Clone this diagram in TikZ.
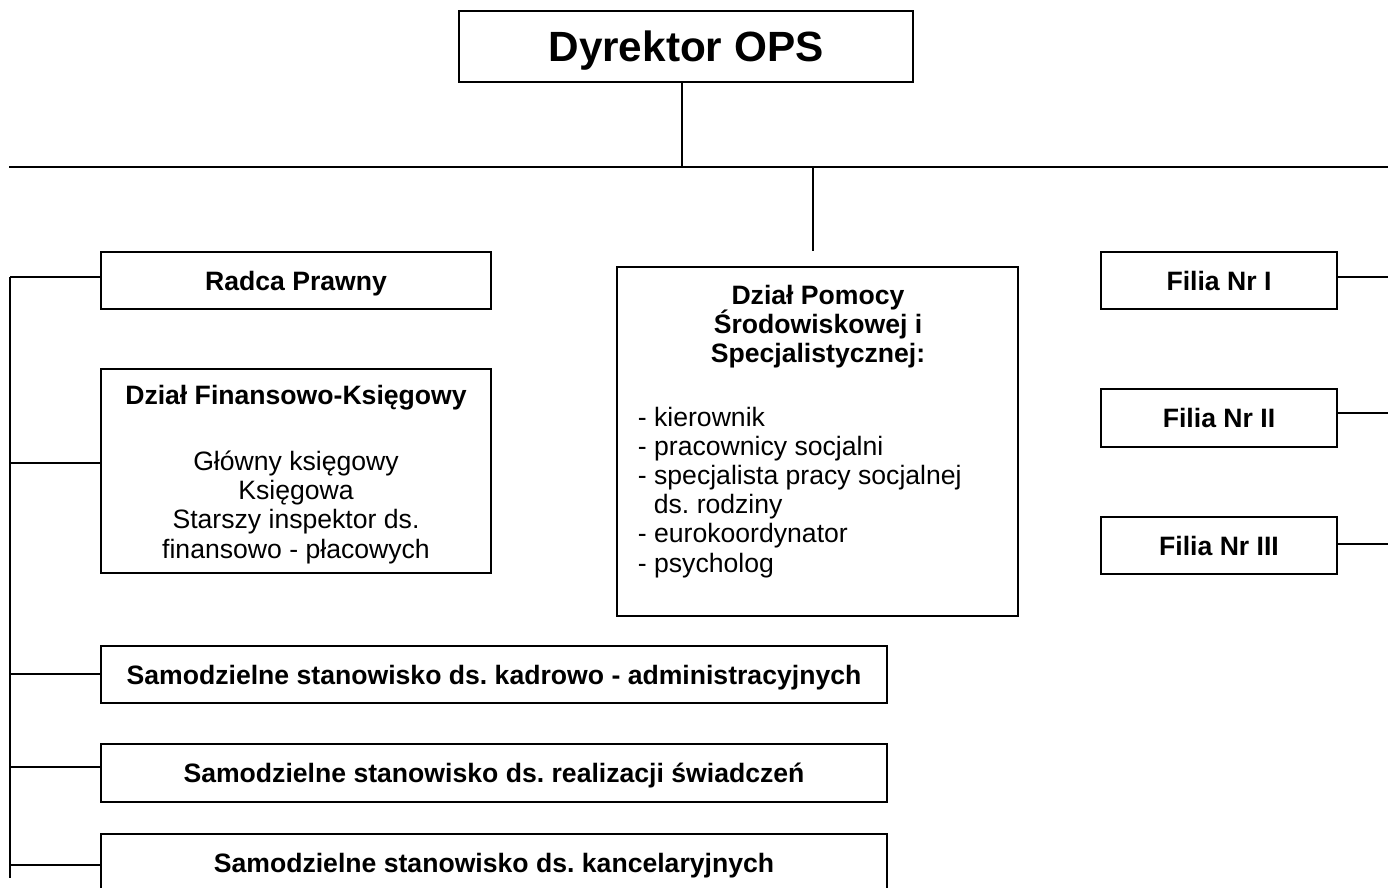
\documentclass[tikz,border=0pt]{standalone}
\usepackage{fontspec}
\setmainfont{Liberation Sans}
\frenchspacing
\newcommand\bodyfont{\fontsize{26.6}{29.2}\selectfont}
\begin{document}
\frenchspacing
\begin{tikzpicture}[x=1pt,y=-1pt,
  line width=1.8pt,
  box/.style={draw, line width=1.8pt, inner sep=0pt, font=\bodyfont\bfseries, text height=19pt, text depth=0pt, align=center},
  txt/.style={inner sep=0pt, font=\bodyfont},
  conn/.style={line width=1.8pt}]
\useasboundingbox (0,0) rectangle (1388,887);
\clip (0,0) rectangle (1388,887);

% boxes
\node[box, minimum width=454pt, minimum height=71pt, font=\fontsize{42.3}{48}\selectfont\bfseries, text height=30pt] (dyr) at (686,46.5) {Dyrektor OPS};
\node[box, minimum width=390pt, minimum height=57pt] (radca) at (296,280.5) {Radca Prawny};
\node[box, minimum width=390pt, minimum height=204pt] (fin) at (296,471) {};
\node[txt, anchor=north, align=center, font=\bodyfont\bfseries] (finT) at (296,384) {Dział Finansowo-Księgowy};
\node[txt, anchor=north, align=center] (finL) at (296,450) {Główny księgowy\\Księgowa\\Starszy inspektor ds.\\finansowo - płacowych};
\node[box, minimum width=401pt, minimum height=349pt] (pom) at (817.5,441.5) {};
\node[txt, anchor=north, align=center, font=\bodyfont\bfseries] (pomT) at (818,284) {Dział Pomocy\\Środowiskowej i\\Specjalistycznej:};
\node[txt, anchor=north west, align=left] (pomL) at (637,406) {- kierownik\\- pracownicy socjalni\\- specjalista pracy socjalnej\\\hspace*{16pt}ds. rodziny\\- eurokoordynator\\- psycholog};
\node[box, minimum width=786pt, minimum height=57pt] (kadr) at (494,674.5) {Samodzielne stanowisko ds. kadrowo - administracyjnych};
\node[box, minimum width=786pt, minimum height=58pt] (real) at (494,773) {Samodzielne stanowisko ds. realizacji świadczeń};
\node[box, minimum width=786pt, minimum height=58pt] (kanc) at (494,863) {Samodzielne stanowisko ds. kancelaryjnych};
\node[box, minimum width=236pt, minimum height=57pt] (filia1) at (1219,280.5) {Filia Nr I};
\node[box, minimum width=236pt, minimum height=58pt] (filia2) at (1219,418) {Filia Nr II};
\node[box, minimum width=236pt, minimum height=57pt] (filia3) at (1219,545.5) {Filia Nr III};

% top connectors
\coordinate (hl) at (9,167);
\coordinate (hr) at (1388,167);
\draw[conn] (hl) -- (hr);
\draw[conn] ([xshift=-4pt]dyr.south) -- ([xshift=-4pt]dyr.south |- hl);
\coordinate (pv) at (813,251);
\draw[conn] (pv |- hl) -- (pv);

% left spine
\coordinate (s1) at (10,277);
\coordinate (s2) at (10,463);
\coordinate (s3) at (10,674);
\coordinate (s4) at (10,767);
\coordinate (s5) at (10,865);
\coordinate (sb) at (10,878);
\draw[conn] (s1) -- (sb);
\draw[conn] (s1) -- (radca.west |- s1);
\draw[conn] (s2) -- (fin.west |- s2);
\draw[conn] (s3) -- (kadr.west |- s3);
\draw[conn] (s4) -- (real.west |- s4);
\draw[conn] (s5) -- (kanc.west |- s5);

% right connectors
\coordinate (r1) at (1388,277);
\coordinate (r2) at (1388,413);
\coordinate (r3) at (1388,544);
\draw[conn] (filia1.east |- r1) -- (r1);
\draw[conn] (filia2.east |- r2) -- (r2);
\draw[conn] (filia3.east |- r3) -- (r3);
\end{tikzpicture}
\end{document}
